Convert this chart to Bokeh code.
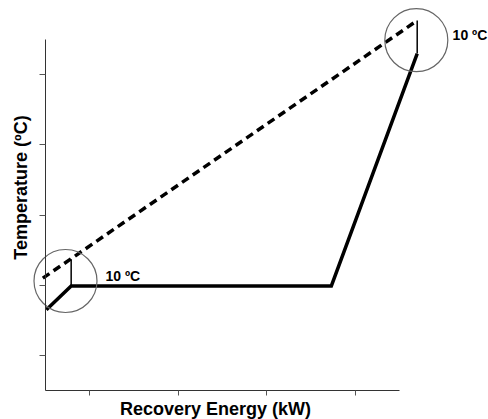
import math
from bokeh.plotting import figure
from bokeh.models import Range1d, Label, FixedTicker
from bokeh.embed import file_html
from bokeh.resources import INLINE

# ---- data ----
x_ticks = [1, 2, 3, 4]
y_ticks = [1, 2, 3, 4, 5]

solid_x = [0.51, 0.79, 3.73, 4.70]
solid_y = [1.65, 1.99, 1.99, 5.30]

dash_x = [0.47, 4.70]
dash_y = [2.10, 5.77]

diff_x = [0.79, 4.70]
diff_y0 = [1.99, 5.30]
diff_y1 = [2.37, 5.77]

circle_x = [0.726, 4.69]
circle_y = [2.06, 5.49]

diff_labels = ["10 ºC", "10 ºC"]
label_x = [1.178, 5.10]
label_y = [2.138, 5.557]

x_title = "Recovery Energy (kW)"
y_title = "Temperature (ºC)"

FONT = "Liberation Sans"

# pixel scale of the reference: 88.5 px per x unit, 70.2 px per y unit,
# axes meet at (0.5, 0.5) which sits at pixel (45, 390)
XS, YS = 88.5, 70.2
x0 = 0.5 - 45 / XS
y0 = 0.5 - (419 - 390) / YS

p = figure(width=488, height=419, output_backend="svg", toolbar_location=None,
           x_range=Range1d(x0, x0 + 488 / XS),
           y_range=Range1d(y0, y0 + 419 / YS),
           min_border_left=0, min_border_right=0, min_border_top=0,
           min_border_bottom=0)
p.outline_line_color = None
p.grid.visible = False
p.background_fill_color = "white"
p.border_fill_color = "white"

# axes drawn inside the frame at the origin
p.xaxis.fixed_location = 0.5
p.yaxis.fixed_location = 0.5
p.xaxis.ticker = FixedTicker(ticks=x_ticks)
p.yaxis.ticker = FixedTicker(ticks=y_ticks)
p.xaxis.bounds = (0.5, 4.5)
p.yaxis.bounds = (0.5, 5.5)
p.xaxis.major_label_overrides = {t: "" for t in x_ticks}
p.yaxis.major_label_overrides = {t: "" for t in y_ticks}
for ax in (p.xaxis, p.yaxis):
    ax.minor_tick_line_color = None
    ax.major_tick_in = 0
    ax.axis_line_color = "#333333"
    ax.major_tick_line_color = "#555555"
    ax.major_label_standoff = 0
p.xaxis.major_tick_out = 5
p.yaxis.major_tick_out = 6

# marks
p.line(dash_x, dash_y, line_color="black", line_width=3.5, line_dash="8 5")
p.segment(x0=diff_x, y0=diff_y0, x1=diff_x, y1=diff_y1, line_color="black",
          line_width=1.5)
p.line(solid_x, solid_y, line_color="black", line_width=3.5,
       line_join="miter")
p.scatter(circle_x, circle_y, marker="circle", size=63, fill_alpha=0,
          line_color="#666666", line_width=1.2)

for t, lx, ly in zip(diff_labels, label_x, label_y):
    p.add_layout(Label(x=lx, y=ly, text=t, text_font=FONT,
                       text_font_style="bold", text_font_size="14px",
                       text_baseline="alphabetic", text_color="black"))

# axis titles
p.add_layout(Label(x=0.5 + (215 - 45) / XS, y=0.5 + (390 - 408.7) / YS,
                   text=x_title, text_font=FONT, text_font_style="bold",
                   text_font_size="18px", text_align="center",
                   text_baseline="alphabetic", text_color="black"))
p.add_layout(Label(x=0.5 + (20 - 45) / XS, y=0.5 + (390 - 187) / YS,
                   text=y_title, text_font=FONT, text_font_style="bold",
                   text_font_size="18px", text_align="center",
                   text_baseline="middle", angle=math.pi / 2,
                   text_color="black"))

open("out.html", "w").write(file_html(p, INLINE))
